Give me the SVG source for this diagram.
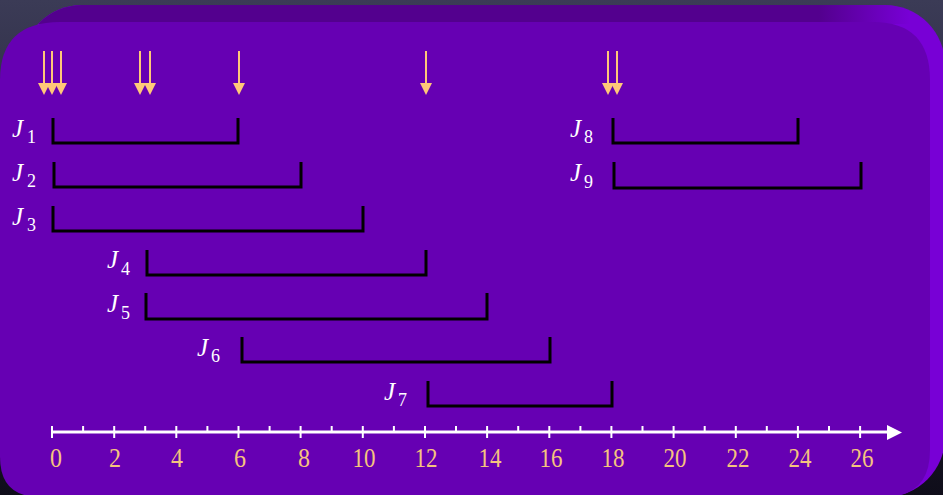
<svg xmlns="http://www.w3.org/2000/svg" width="943" height="495" viewBox="0 0 943 495">
<defs>
<linearGradient id="bg" x1="0" y1="0" x2="0" y2="1">
<stop offset="0" stop-color="#3b3b56"/>
<stop offset="0.35" stop-color="#2a2940"/>
<stop offset="1" stop-color="#0f0d1a"/>
</linearGradient>
<linearGradient id="band" x1="0" y1="0" x2="1" y2="0">
<stop offset="0.9" stop-color="#53008e"/>
<stop offset="1" stop-color="#53008e" stop-opacity="0"/>
</linearGradient>
<clipPath id="backclip">
<rect x="22" y="5" width="923" height="492" rx="60"/>
</clipPath>
<style>
.br{fill:none;stroke:#000;stroke-width:3}
.rel line{stroke:#ffc878;stroke-width:2}
.rel polygon{fill:#ffc878}
.tk{stroke:#fff;stroke-width:2}
</style>
</defs>
<rect x="0" y="0" width="943" height="495" fill="url(#bg)"/>
<g id="panel">
<rect x="22" y="5" width="923" height="492" rx="60" fill="#7800d6"/>
<rect x="0" y="0" width="910" height="24" fill="url(#band)" clip-path="url(#backclip)"/>
<path d="M0,80 Q0,22 60,22 H873 Q930,22 930,80 V450 Q930,497 883,497 H40 Q0,497 0,457 Z" fill="#6600b3"/>
</g>
<g id="releases" class="rel">
<line x1="44" y1="51" x2="44" y2="85"/><polygon points="38,83 50,83 44,95"/>
<line x1="52" y1="51" x2="52" y2="85"/><polygon points="46,83 58,83 52,95"/>
<line x1="61" y1="51" x2="61" y2="85"/><polygon points="55,83 67,83 61,95"/>
<line x1="140" y1="51" x2="140" y2="85"/><polygon points="134,83 146,83 140,95"/>
<line x1="150" y1="51" x2="150" y2="85"/><polygon points="144,83 156,83 150,95"/>
<line x1="239" y1="51" x2="239" y2="85"/><polygon points="233,83 245,83 239,95"/>
<line x1="426" y1="51" x2="426" y2="85"/><polygon points="420,83 432,83 426,95"/>
<line x1="608" y1="51" x2="608" y2="85"/><polygon points="602,83 614,83 608,95"/>
<line x1="617" y1="51" x2="617" y2="85"/><polygon points="611,83 623,83 617,95"/>
</g>
<g font-family="'Liberation Serif', 'Times New Roman', 'DejaVu Serif', serif" fill="#ffffff">
<g id="J1"><path class="br" d="M53,118 V143 H238 V118"/><text y="137"><tspan font-style="italic" font-size="25" x="12">J</tspan><tspan font-size="18" x="27" y="143">1</tspan></text></g>
<g id="J2"><path class="br" d="M54,162 V187 H301 V162"/><text y="181"><tspan font-style="italic" font-size="25" x="12">J</tspan><tspan font-size="18" x="27" y="187">2</tspan></text></g>
<g id="J3"><path class="br" d="M53,206 V231 H363 V206"/><text y="225"><tspan font-style="italic" font-size="25" x="12">J</tspan><tspan font-size="18" x="27" y="231">3</tspan></text></g>
<g id="J4"><path class="br" d="M147,250 V275 H426 V250"/><text y="268"><tspan font-style="italic" font-size="25" x="107">J</tspan><tspan font-size="18" x="121" y="275">4</tspan></text></g>
<g id="J5"><path class="br" d="M146,293 V319 H487 V293"/><text y="312"><tspan font-style="italic" font-size="25" x="107">J</tspan><tspan font-size="18" x="121" y="319">5</tspan></text></g>
<g id="J6"><path class="br" d="M242,337 V362 H550 V337"/><text y="356"><tspan font-style="italic" font-size="25" x="197">J</tspan><tspan font-size="18" x="211" y="362">6</tspan></text></g>
<g id="J7"><path class="br" d="M428,381 V406 H612 V381"/><text y="400"><tspan font-style="italic" font-size="25" x="384">J</tspan><tspan font-size="18" x="398" y="406">7</tspan></text></g>
<g id="J8"><path class="br" d="M613,118 V143 H798 V118"/><text y="137"><tspan font-style="italic" font-size="25" x="570">J</tspan><tspan font-size="18" x="584" y="143">8</tspan></text></g>
<g id="J9"><path class="br" d="M614,162 V188 H861 V162"/><text y="181"><tspan font-style="italic" font-size="25" x="570">J</tspan><tspan font-size="18" x="584" y="188">9</tspan></text></g>
</g>
<g id="axis">
<line x1="52" y1="432" x2="890" y2="432" stroke="#fff" stroke-width="3"/>
<polygon points="887,425 902,432.5 887,440" fill="#fff"/>
<line class="tk" x1="52" y1="426" x2="52" y2="438" stroke-width="2.5"/>
<line class="tk" x1="83.1" y1="426" x2="83.1" y2="432"/>
<line class="tk" x1="114.2" y1="426" x2="114.2" y2="438"/>
<line class="tk" x1="145.2" y1="426" x2="145.2" y2="432"/>
<line class="tk" x1="176.3" y1="426" x2="176.3" y2="438"/>
<line class="tk" x1="207.4" y1="426" x2="207.4" y2="432"/>
<line class="tk" x1="238.5" y1="426" x2="238.5" y2="438"/>
<line class="tk" x1="269.6" y1="426" x2="269.6" y2="432"/>
<line class="tk" x1="300.6" y1="426" x2="300.6" y2="438"/>
<line class="tk" x1="331.7" y1="426" x2="331.7" y2="432"/>
<line class="tk" x1="362.8" y1="426" x2="362.8" y2="438"/>
<line class="tk" x1="393.9" y1="426" x2="393.9" y2="432"/>
<line class="tk" x1="425" y1="426" x2="425" y2="438"/>
<line class="tk" x1="456" y1="426" x2="456" y2="432"/>
<line class="tk" x1="487.1" y1="426" x2="487.1" y2="438"/>
<line class="tk" x1="518.2" y1="426" x2="518.2" y2="432"/>
<line class="tk" x1="549.3" y1="426" x2="549.3" y2="438"/>
<line class="tk" x1="580.4" y1="426" x2="580.4" y2="432"/>
<line class="tk" x1="611.4" y1="426" x2="611.4" y2="438"/>
<line class="tk" x1="642.5" y1="426" x2="642.5" y2="432"/>
<line class="tk" x1="673.6" y1="426" x2="673.6" y2="438"/>
<line class="tk" x1="704.7" y1="426" x2="704.7" y2="432"/>
<line class="tk" x1="735.8" y1="426" x2="735.8" y2="438"/>
<line class="tk" x1="766.8" y1="426" x2="766.8" y2="432"/>
<line class="tk" x1="797.9" y1="426" x2="797.9" y2="438"/>
<line class="tk" x1="829" y1="426" x2="829" y2="432"/>
<line class="tk" x1="860.1" y1="426" x2="860.1" y2="438"/>
<g font-family="'Liberation Serif', 'Times New Roman', 'DejaVu Serif', serif" font-size="27" fill="#f5c47e" text-anchor="middle" lengthAdjust="spacingAndGlyphs">
<text x="56" y="467" textLength="12" lengthAdjust="spacingAndGlyphs">0</text>
<text x="115" y="467" textLength="12" lengthAdjust="spacingAndGlyphs">2</text>
<text x="177" y="467" textLength="12" lengthAdjust="spacingAndGlyphs">4</text>
<text x="240" y="467" textLength="12" lengthAdjust="spacingAndGlyphs">6</text>
<text x="304" y="467" textLength="12" lengthAdjust="spacingAndGlyphs">8</text>
<text x="364" y="467" textLength="23" lengthAdjust="spacingAndGlyphs">10</text>
<text x="426" y="467" textLength="23" lengthAdjust="spacingAndGlyphs">12</text>
<text x="490" y="467" textLength="23" lengthAdjust="spacingAndGlyphs">14</text>
<text x="551" y="467" textLength="23" lengthAdjust="spacingAndGlyphs">16</text>
<text x="613" y="467" textLength="23" lengthAdjust="spacingAndGlyphs">18</text>
<text x="675" y="467" textLength="23" lengthAdjust="spacingAndGlyphs">20</text>
<text x="738" y="467" textLength="23" lengthAdjust="spacingAndGlyphs">22</text>
<text x="800" y="467" textLength="23" lengthAdjust="spacingAndGlyphs">24</text>
<text x="862" y="467" textLength="23" lengthAdjust="spacingAndGlyphs">26</text>
</g>
</g>
</svg>
